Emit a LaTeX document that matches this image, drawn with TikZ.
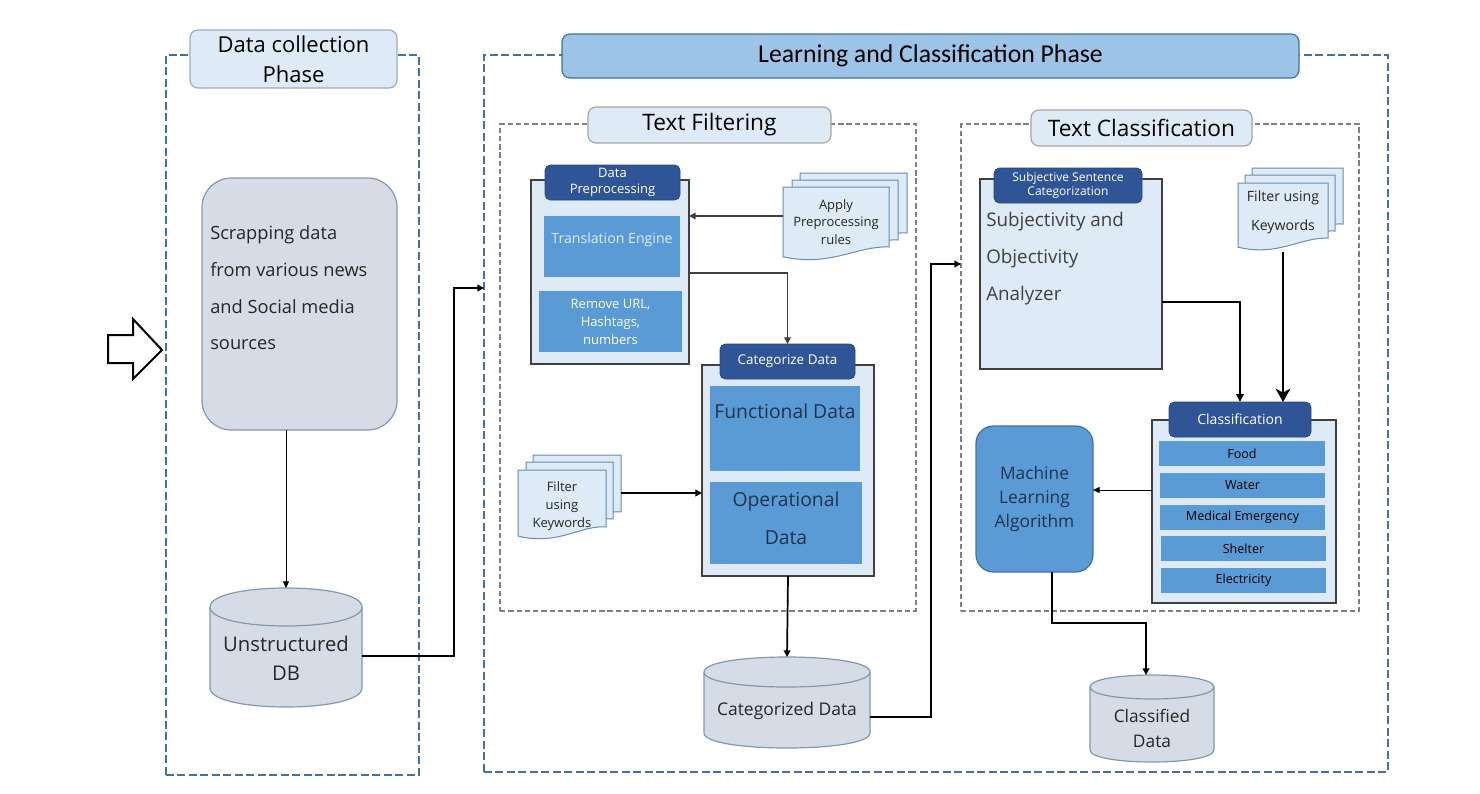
\documentclass[tikz,border=0pt]{standalone}
\usepackage{fontspec}
\setmainfont{Open Sans}
\newfontfamily\calib{Carlito}
\usetikzlibrary{arrows.meta,calc}
\definecolor{outerblue}{HTML}{41719C}
\definecolor{lightfill}{HTML}{DEEBF7}
\definecolor{greyfill}{HTML}{D6DCE5}
\definecolor{greyedge}{HTML}{8497B0}
\definecolor{darkhead}{HTML}{2F5597}
\definecolor{midblue}{HTML}{5B9BD5}
\definecolor{titleblue}{HTML}{9DC3E6}
\definecolor{dashgrey}{HTML}{7F7F7F}
\definecolor{txtdark}{HTML}{404040}
\definecolor{navytext}{HTML}{1F3350}
\newcommand\fsz[2]{\fontsize{#1}{#2}\selectfont}
\newcommand\docshape[4]{%
 \filldraw[docst] (#1,#2) -- (#3,#2) -- (#3,{#4-0.2*(#4-#2)}) .. controls ({#1+0.7*(#3-#1)},{#4-0.22*(#4-#2)}) and ({#1+0.45*(#3-#1)},{#4+0.07*(#4-#2)}) .. (#1,{#4-0.07*(#4-#2)}) -- cycle;}
\newcommand\cylshape[5]{%
 \filldraw[cylst] (#1,{#3+#5}) -- (#1,{#4-#5}) .. controls (#1,{#4+#5/3}) and (#2,{#4+#5/3}) .. (#2,{#4-#5}) -- (#2,{#3+#5}) .. controls (#2,{#3-#5/3}) and (#1,{#3-#5/3}) .. cycle;
 \draw[cylst, fill=none] (#1,{#3+#5}) .. controls (#1,{#3+7*#5/3}) and (#2,{#3+7*#5/3}) .. (#2,{#3+#5});}
\begin{document}
\begin{tikzpicture}[x=0.75pt,y=-0.75pt,
  rect/.style n args={4}{minimum width={(#3-#1)*0.75pt}, minimum height={(#4-#2)*0.75pt}, at={({(#1+#3)/2},{(#2+#4)/2})}, inner sep=0, outer sep=0},
  outerdash/.style={draw=outerblue, line width=2.1pt, dash pattern=on 6pt off 2.6pt},
  innerdash/.style={draw=dashgrey, line width=1pt, dash pattern=on 4pt off 2.2pt},
  lighttitle/.style={draw=#1, fill=lightfill, rounded corners=6pt, line width=0.9pt},
  head/.style={fill=darkhead, draw=darkhead!85!black, rounded corners=4pt, text=white, line width=0.6pt},
  cont/.style={fill=lightfill, draw=txtdark, line width=0.9pt},
  mid/.style={fill=midblue},
  docst/.style={fill=lightfill, draw=outerblue!80, line width=0.75pt},
  cylst/.style={fill=greyfill, draw=greyedge, line width=0.9pt},
  conn/.style={draw=black, line width=1.3pt, -{Triangle[length=5pt,width=5pt]}},
  greyconn/.style={draw=txtdark, line width=1.1pt, -{Triangle[length=5pt,width=5pt]}},
  thinconn/.style={draw=black, line width=0.6pt, -{Triangle[length=5pt,width=4.5pt]}},
  thickconn/.style={draw=black, line width=1.8pt, -{Triangle[length=6pt,width=5.5pt]}},
  bigconn/.style={draw=black, line width=2pt, -{Stealth[length=10pt,width=11pt,inset=3pt]}},
  txt/.style={inner sep=0, text=black!85}
]
\useasboundingbox (0,0) rectangle (1480,793);
\fill[white] (0,0) rectangle (1480,793);

% ---------- Data collection phase ----------
\node[rect={166}{55}{419}{775}, outerdash] (dcbox) {};
\node[rect={190}{30}{397}{88}, lighttitle=greyedge!80, font=\fsz{16.5}{22.5}, align=center] (dctitle) {Data collection\\Phase};

\node[rect={202}{178}{397}{430}, fill=greyfill, draw=greyedge, rounded corners=22pt, line width=0.9pt] (scrap) {};
\node[txt, anchor=west, align=left, font=\fsz{13.7}{27.5}] (scraptxt) at (210,288) {Scrapping data\\from various news\\and Social media\\sources};

\cylshape{210}{362}{588}{707}{19}
\node[rect={210}{588}{362}{707}] (db1) {};
\node[txt, align=center, font=\fsz{15.2}{21.75}] (db1txt) at (286,658) {Unstructured\\DB};

\draw[line width=1.5pt, fill=white] (108,335) -- (133,335) -- (133,319) -- (162,350) -- (133,379) -- (133,363) -- (108,363) -- cycle;

% ---------- Learning and classification ----------
\node[rect={484}{55}{1388}{772}, outerdash] (lcbox) {};
\node[rect={562}{34}{1299}{78}, fill=titleblue, draw=outerblue, rounded corners=6pt, line width=0.9pt, font=\calib\fsz{19.3}{22}] (lctitle) {Learning and Classification Phase};

\node[rect={500}{124}{916}{611}, innerdash] (tfbox) {};
\node[rect={588}{107}{831}{143}, lighttitle=dashgrey!70, font=\fsz{17}{20}] (tftitle) {Text Filtering};
\node[rect={961}{124}{1359}{611}, innerdash] (tcbox) {};
\node[rect={1031}{110}{1252}{146}, lighttitle=dashgrey!70, font=\fsz{17}{20}] (tctitle) {Text Classification};

% Data preprocessing
\node[rect={531}{180}{689}{364}, cont] (prep) {};
\node[rect={545}{165}{680}{200}, head, font=\fsz{9.75}{12}, align=center] (prephead) {Data\\Preprocessing};
\node[rect={544}{216}{680}{277}, mid] (trans) {};
\node[inner sep=0, text=lightfill, font=\fsz{10.6}{12}] (transtxt) at (612,240) {Translation Engine};
\node[rect={539}{291}{682}{352}, mid, text=white, font=\fsz{9.75}{13.5}, align=center] (remove) {Remove URL,\\Hashtags,\\numbers};

\docshape{800}{173}{907}{248}
\docshape{792}{180}{898}{255}
\docshape{783}{187}{889}{262}
\node[rect={783}{187}{889}{262}] (apply) {};
\node[txt, align=center, font=\fsz{9.75}{13}] (applytxt) at (836,222) {Apply\\Preprocessing\\rules};

% Categorize
\node[rect={702}{365}{874}{576}, cont] (cat) {};
\node[rect={720}{344}{855}{379}, head, font=\fsz{10.1}{12}] (cathead) {Categorize Data};
\node[rect={710}{386}{860}{471}, mid] (func) {};
\node[inner sep=0, text=navytext, font=\fsz{14.5}{16}] (functxt) at (785,411) {Functional Data};
\node[rect={710}{482}{862}{564}, mid] (oper) {};
\node[inner sep=0, text=navytext, font=\fsz{14.5}{28.5}, align=center] (opertxt) at (786,518) {Operational\\Data};

\docshape{533}{455}{621}{526}
\docshape{526}{462}{613}{533}
\docshape{518}{470}{606}{541}
\node[rect={518}{470}{606}{541}] (kw1) {};
\node[txt, align=center, font=\fsz{9.75}{13.5}] (kw1txt) at (562,506) {Filter\\using\\Keywords};

\cylshape{704}{870}{657}{748}{15}
\node[rect={704}{657}{870}{748}] (db2) {};
\node[txt, font=\fsz{13.1}{15}] (db2txt) at (787,711) {Categorized Data};

% Subjective
\node[rect={980}{179}{1162}{369}, cont] (subj) {};
\node[rect={994}{168}{1142}{203}, head, font=\fsz{9}{10.5}, align=center] (subjhead) {Subjective Sentence\\Categorization};
\node[inner sep=0, text=txtdark, anchor=west, align=left, font=\fsz{14.1}{27.75}] (subjtxt) at (986,259) {Subjectivity and\\Objectivity\\Analyzer};

\docshape{1252}{168}{1343}{238}
\docshape{1245}{175}{1335}{245}
\docshape{1238}{183}{1328}{252}
\node[rect={1238}{183}{1328}{252}] (kw2) {};
\node[txt, align=center, font=\fsz{10.6}{21.75}] (kw2txt) at (1283,212) {Filter using\\Keywords};

% Classification
\node[rect={1152}{420}{1336}{603}, cont] (cls) {};
\node[rect={1169}{402}{1311}{437}, head, font=\fsz{10.5}{12}] (clshead) {Classification};
\node[rect={1159}{441}{1325}{466}, mid, font=\fsz{9.4}{11}] (food) {Food};
\node[rect={1160}{473}{1325}{498}, mid, font=\fsz{9.4}{11}] (water) {Water};
\node[rect={1160}{505}{1325}{530}, mid, font=\fsz{9.4}{11}] (medical) {Medical Emergency};
\node[rect={1161}{536}{1326}{561}, mid, font=\fsz{9.4}{11}] (shelter) {Shelter};
\node[rect={1161}{568}{1326}{593}, mid, font=\fsz{9.4}{11}] (elec) {Electricity};

\node[rect={976}{426}{1093}{572}, fill=midblue, draw=outerblue, rounded corners=13pt, line width=0.9pt, align=center, font=\fsz{13}{18}, text=navytext] (ml) {Machine\\Learning\\Algorithm};

\cylshape{1090}{1214}{675}{762}{12}
\node[rect={1090}{675}{1214}{762}] (db3) {};
\node[txt, align=center, font=\fsz{13}{18.75}] (db3txt) at (1152,728) {Classified\\Data};

% ---------- connectors ----------
\coordinate (j1) at (454,288);
\coordinate (r1) at (0,216);
\coordinate (r2) at (0,273);
\coordinate (r3) at (621,493);
\coordinate (j2) at (931,264);
\coordinate (r4) at (0,302);
\coordinate (r5) at (0,490);
\coordinate (j3) at (1052,623);

\draw[thinconn] (db1.north |- scrap.south) -- (db1.north);
\draw[conn] ($(db1.east)+(0,8.5)$) -| (j1) -- (lcbox.west |- j1);
\draw[greyconn] (apply.west |- r1) -- (prep.east |- r1);
\draw[greyconn] (prep.east |- r2) -| (cathead.north);
\draw[conn] (r3) -- (cat.west |- r3);
\draw[conn] (cat.south) -- (db2.north);
\draw[conn] ($(db2.east)+(0,14.5)$) -| (j2) -- (tcbox.west |- j2);
\draw[thickconn] (subj.east |- r4) -| (clshead.north);
\draw[bigconn] (kw2.south) -- (kw2.south |- clshead.north);
\draw[thinconn] (cls.west |- r5) -- (ml.east |- r5);
\draw[conn] (ml.south -| j3) -- (j3) -| ($(db3.north)+(-6,0)$);
\end{tikzpicture}
\end{document}
